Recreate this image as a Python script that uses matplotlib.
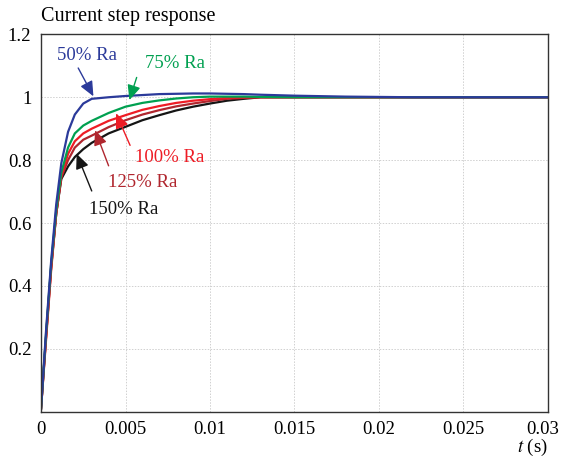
import matplotlib

matplotlib.use("Agg")
import matplotlib.pyplot as plt
from matplotlib.transforms import ScaledTranslation

# time axis (s) and the five responses
t = [0, 0.0003, 0.0006, 0.0009, 0.0012, 0.0016, 0.002, 0.0025, 0.003, 0.004,
     0.005, 0.006, 0.007, 0.008, 0.009, 0.010, 0.011, 0.012, 0.013, 0.015,
     0.018, 0.022, 0.026, 0.03]
ra_50 = [0.01, 0.26, 0.48, 0.66, 0.79, 0.89, 0.945, 0.98, 0.995, 1.0,
         1.004, 1.007, 1.01, 1.011, 1.012, 1.012, 1.011, 1.01, 1.008, 1.005,
         1.002, 1.0, 1.0, 1.0]
ra_75 = [0.01, 0.25, 0.47, 0.64, 0.76, 0.84, 0.885, 0.91, 0.925, 0.95,
         0.97, 0.982, 0.99, 0.996, 1.0, 1.002, 1.002, 1.002, 1.001, 1.0,
         1.0, 1.0, 1.0, 1.0]
ra_100 = [0.01, 0.23, 0.45, 0.63, 0.75, 0.82, 0.86, 0.885, 0.9, 0.925,
          0.943, 0.96, 0.972, 0.982, 0.989, 0.994, 0.998, 1.0, 1.0, 1.0,
          1.0, 1.0, 1.0, 1.0]
ra_125 = [0.01, 0.24, 0.46, 0.63, 0.745, 0.80, 0.84, 0.865, 0.878, 0.905,
          0.927, 0.945, 0.959, 0.971, 0.98, 0.988, 0.995, 0.998, 1.0, 1.0,
          1.0, 1.0, 1.0, 1.0]
ra_150 = [0.01, 0.24, 0.46, 0.63, 0.74, 0.78, 0.81, 0.835, 0.855, 0.885,
          0.906, 0.927, 0.943, 0.958, 0.97, 0.98, 0.989, 0.995, 1.0, 1.0,
          1.0, 1.0, 1.0, 1.0]

labels = ["50% Ra", "75% Ra", "100% Ra", "125% Ra", "150% Ra"]
colors = ["#2B3A9A", "#00A050", "#EE1C25", "#B0262E", "#151515"]
series = [ra_50, ra_75, ra_100, ra_125, ra_150]

# annotation: text position, arrow tail, arrow head (data coords)
text_pos = [(0.0027, 1.132), (0.0079, 1.106), (0.0076, 0.81), (0.0060, 0.73), (0.0049, 0.643)]
arrow_tail = [(0.0022, 1.093), (0.00566, 1.063), (0.00527, 0.847), (0.0040, 0.782), (0.0030, 0.702)]
arrow_head = [(0.0031, 1.003), (0.00523, 0.991), (0.00444, 0.949), (0.0032, 0.895), (0.00211, 0.82)]

plt.rcParams["font.family"] = ["Liberation Serif", "DejaVu Serif"]
plt.rcParams["mathtext.fontset"] = "stix"

fig = plt.figure(figsize=(5.62, 4.58), dpi=100)
ax = fig.add_axes([0.073, 0.101, 0.902, 0.824])

# draw in reverse so the blue curve sits on top
for y, c in reversed(list(zip(series, colors))):
    ax.plot(t, y, color=c, lw=1.6)

for lab, c, tp, tail, head in zip(labels, colors, text_pos, arrow_tail, arrow_head):
    ax.text(tp[0], tp[1], lab, color=c, fontsize=13.5, ha="center", va="center")
    ax.annotate("", xy=head, xytext=tail,
                arrowprops=dict(arrowstyle="-|>,head_length=0.9,head_width=0.4",
                                color=c, lw=1.0, shrinkA=0, shrinkB=0))

ax.set_xlim(0, 0.03)
ax.set_ylim(0, 1.2)
ax.set_xticks([0, 0.005, 0.01, 0.015, 0.02, 0.025, 0.03])
ax.set_xticklabels(["0", "0.005", "0.01", "0.015", "0.02", "0.025", "0.03"])
ax.set_yticks([0.2, 0.4, 0.6, 0.8, 1.0, 1.2])
ax.set_yticklabels(["0.2", "0.4", "0.6", "0.8", "1", "1.2"])
ax.tick_params(length=0, labelsize=13.5, pad=7)
ax.grid(color="#d0d0d0", linestyle=(0, (1.5, 1.5)), lw=0.7)
for sp in ax.spines.values():
    sp.set_color("#333333")
    sp.set_linewidth(1.0)

# keep the last x label inside the canvas
last = ax.get_xticklabels()[-1]
last.set_transform(last.get_transform() + ScaledTranslation(-4 / 72, 0, fig.dpi_scale_trans))

fig.text(0.073, 0.963, "Current step response", fontsize=14.5, ha="left", va="center")
fig.text(0.975, 0.0, r"$t$ (s)", fontsize=13.5, ha="right", va="bottom")

fig.savefig("out.png", dpi=100)
